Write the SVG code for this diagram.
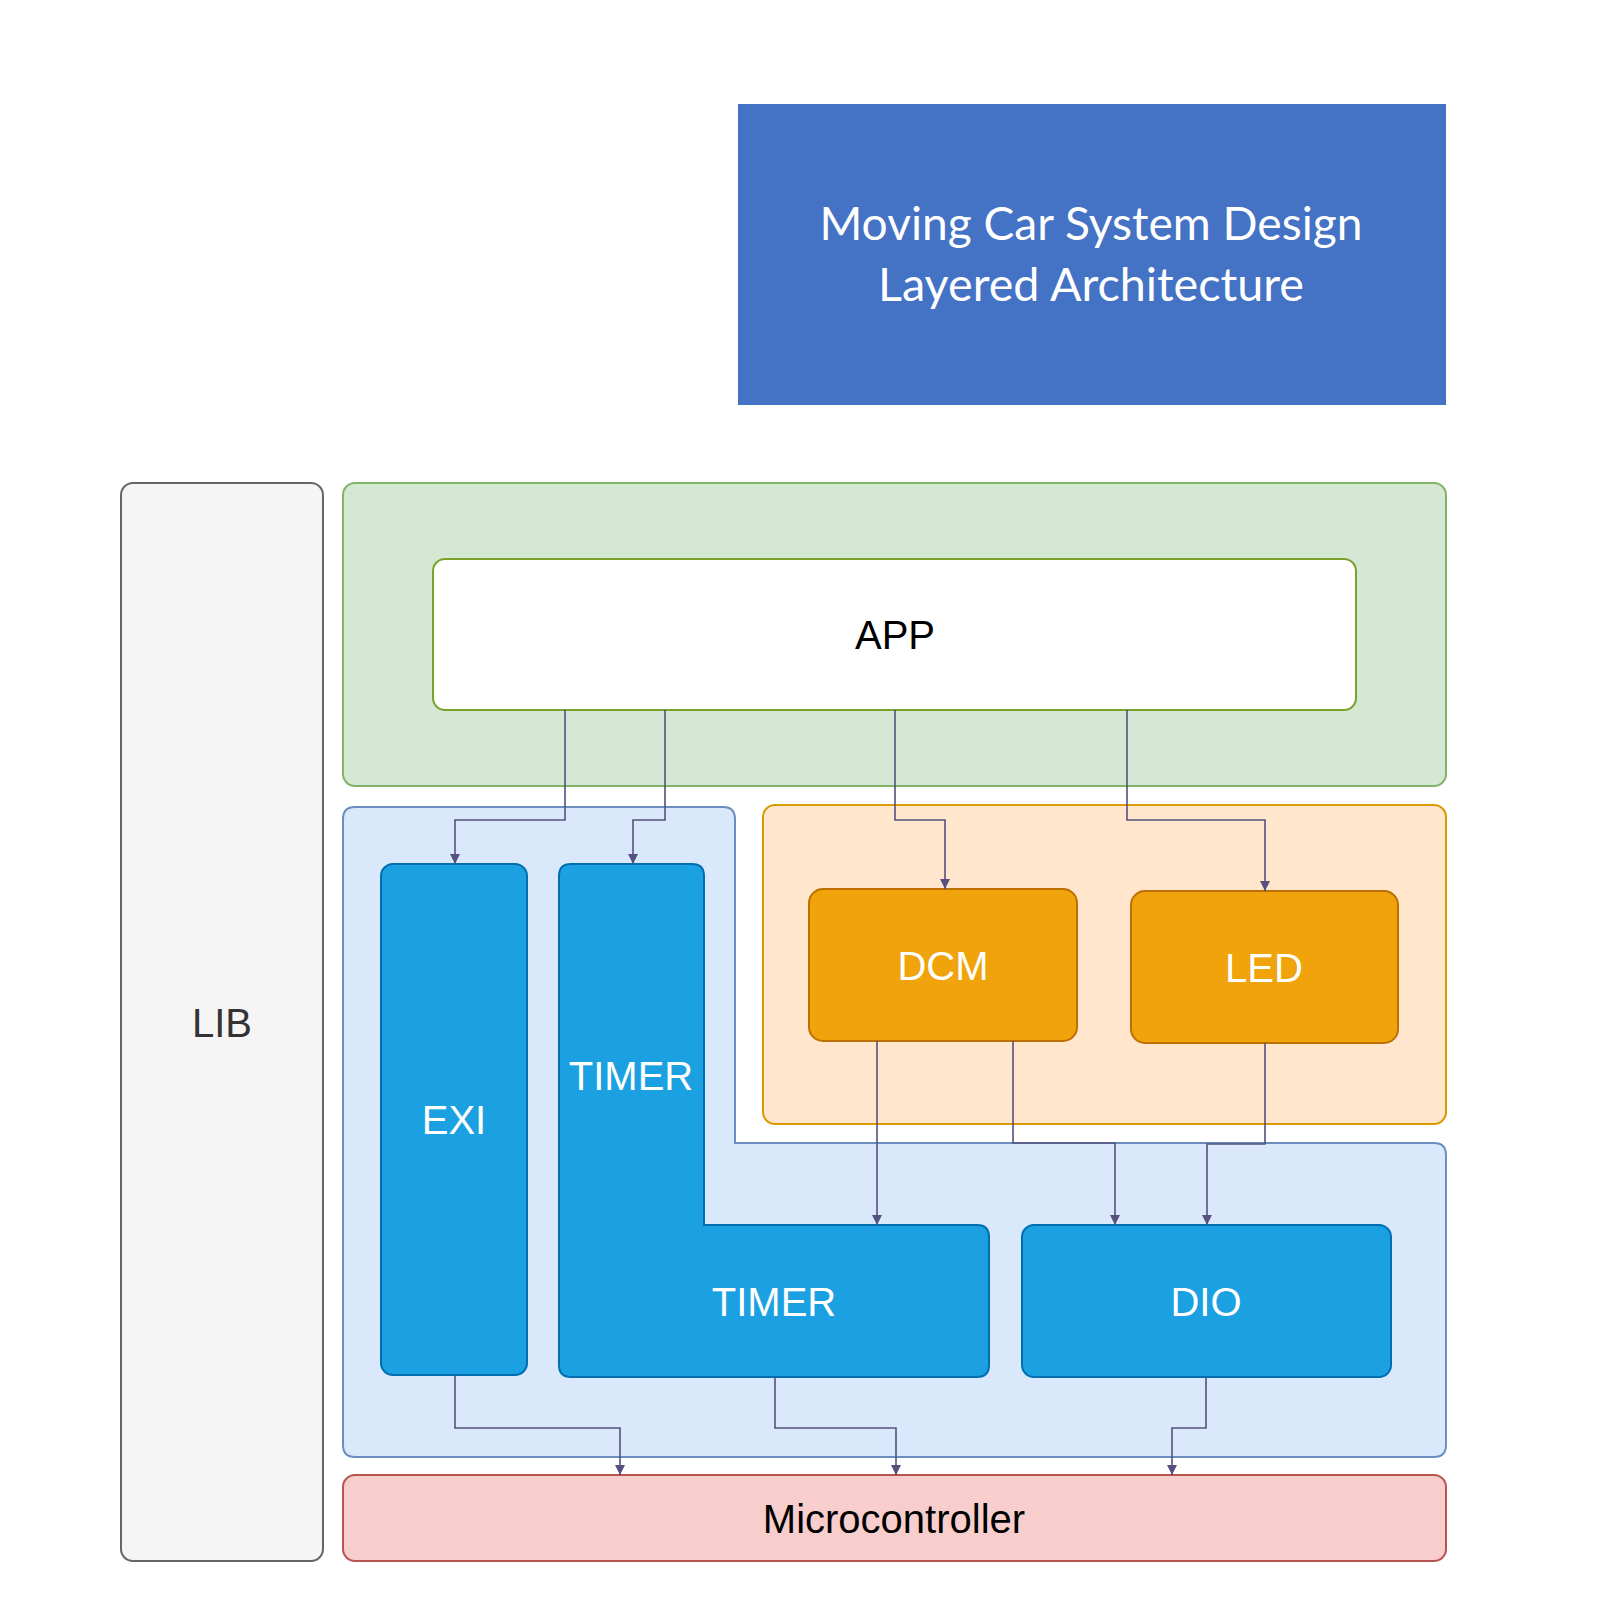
<svg xmlns="http://www.w3.org/2000/svg" width="1600" height="1600" viewBox="0 0 1600 1600">
<defs>
<style>
.lbl{font-family:"Liberation Sans",Arial,sans-serif;font-size:40px;text-anchor:middle}
.w{fill:#ffffff}
.blue{fill:#1ba1e2;stroke:#006eaf;stroke-width:2}
.org{fill:#f0a30a;stroke:#bd7000;stroke-width:2}
.conn path{fill:none;stroke:#56517e;stroke-width:1.6;marker-end:url(#arr)}
</style>
<marker id="arr" viewBox="0 0 10 10" refX="10" refY="5" markerWidth="10" markerHeight="10" markerUnits="userSpaceOnUse" orient="auto">
<path d="M0,0 L10,5 L0,10 Z" fill="#56517e"/>
</marker>
</defs>
<rect width="1600" height="1600" fill="#ffffff"/>

<g id="title">
<rect x="738" y="104" width="708" height="301" fill="#4472c4"/>
<text x="1091" y="240" font-family="Lato,'Open Sans',sans-serif" font-size="47" fill="#ffffff" text-anchor="middle" textLength="543" lengthAdjust="spacingAndGlyphs">Moving Car System Design</text>
<text x="1091" y="301" font-family="Lato,'Open Sans',sans-serif" font-size="47" fill="#ffffff" text-anchor="middle" textLength="426" lengthAdjust="spacingAndGlyphs">Layered Architecture</text>
</g>

<g id="lib">
<rect x="121" y="483" width="202" height="1078" rx="12" fill="#f5f5f5" stroke="#666666" stroke-width="2"/>
<text class="lbl" x="222" y="1037" fill="#333333">LIB</text>
</g>

<g id="app-layer">
<rect x="343" y="483" width="1103" height="303" rx="12" fill="#d5e8d4" stroke="#82b366" stroke-width="2"/>
</g>

<g id="app">
<rect x="433" y="559" width="923" height="151" rx="12" fill="#ffffff" stroke="#7aa12a" stroke-width="2"/>
<text class="lbl" x="895" y="649" fill="#000000">APP</text>
</g>

<g id="mcal-layer">
<path d="M355,807 H723 Q735,807 735,819 V1143 H1434 Q1446,1143 1446,1155 V1445 Q1446,1457 1434,1457 H355 Q343,1457 343,1445 V819 Q343,807 355,807 Z" fill="#dae8fc" stroke="#6c8ebf" stroke-width="2"/>
</g>

<g id="ecual-layer">
<rect x="763" y="805" width="683" height="319" rx="12" fill="#ffe6cc" stroke="#d79b00" stroke-width="2"/>
</g>

<g id="exi">
<rect class="blue" x="381" y="864" width="146" height="511" rx="12"/>
<text class="lbl w" x="454" y="1134">EXI</text>
</g>

<g id="timer">
<path class="blue" d="M571,864 H692 Q704,864 704,876 V1225 H977 Q989,1225 989,1237 V1365 Q989,1377 977,1377 H571 Q559,1377 559,1365 V876 Q559,864 571,864 Z"/>
<text class="lbl w" x="631" y="1090">TIMER</text>
<text class="lbl w" x="774" y="1316">TIMER</text>
</g>

<g id="dio">
<rect class="blue" x="1022" y="1225" width="369" height="152" rx="12"/>
<text class="lbl w" x="1206" y="1316">DIO</text>
</g>

<g id="dcm">
<rect class="org" x="809" y="889" width="268" height="152" rx="14"/>
<text class="lbl w" x="943" y="980">DCM</text>
</g>

<g id="led">
<rect class="org" x="1131" y="891" width="267" height="152" rx="14"/>
<text class="lbl w" x="1264" y="982">LED</text>
</g>

<g id="microcontroller">
<rect x="343" y="1475" width="1103" height="86" rx="12" fill="#f8cecc" stroke="#b85450" stroke-width="2"/>
<text class="lbl" x="894" y="1533" fill="#000000">Microcontroller</text>
</g>

<g class="conn" id="connectors">
<path d="M565,710 V820 H455 V864"/>
<path d="M665,710 V820 H633 V864"/>
<path d="M895,710 V820 H945 V889"/>
<path d="M1127,710 V820 H1265 V891"/>
<path d="M877,1041 V1225"/>
<path d="M1013,1041 V1143 H1115 V1225"/>
<path d="M1265,1043 V1144 H1207 V1225"/>
<path d="M455,1375 V1428 H620 V1475"/>
<path d="M775,1377 V1428 H896 V1475"/>
<path d="M1206,1377 V1428 H1172 V1475"/>
</g>
</svg>
